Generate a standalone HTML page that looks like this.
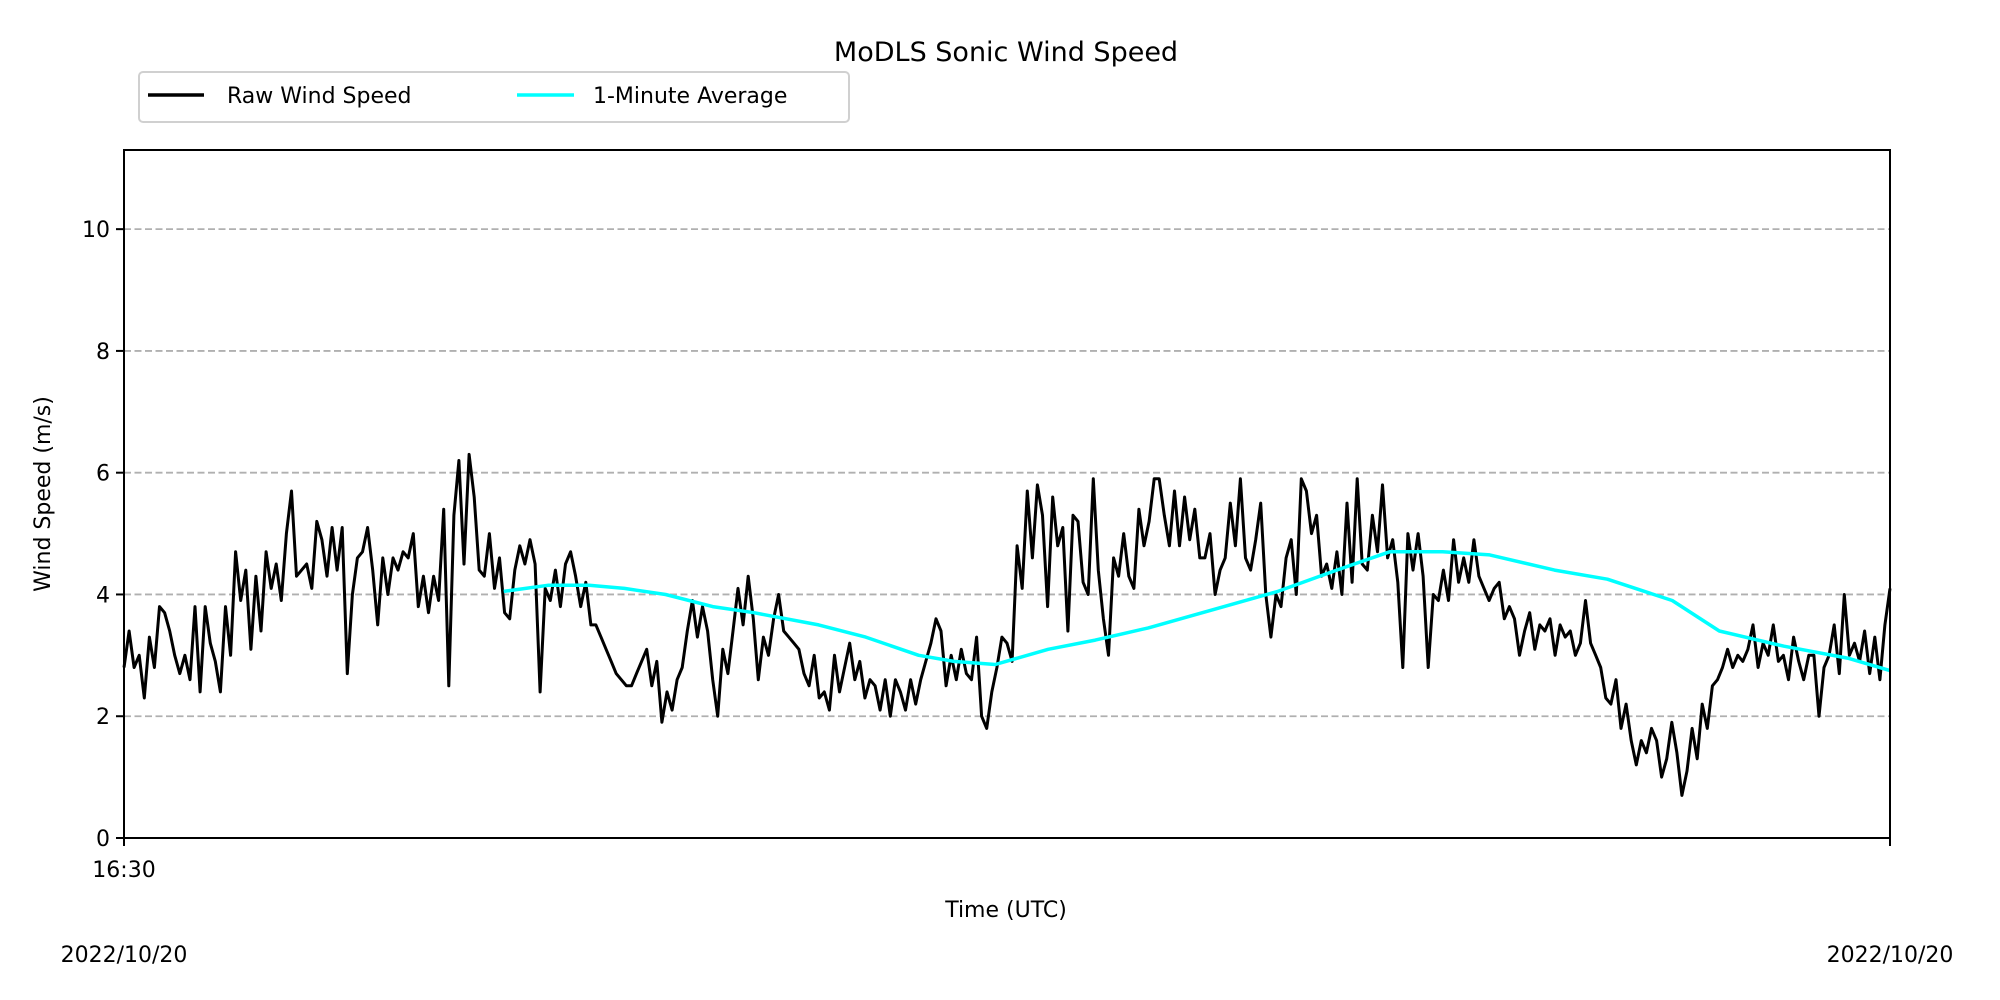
<!DOCTYPE html>
<html><head><meta charset="utf-8"><style>
html,body{margin:0;padding:0;background:#fff;}
svg{display:block;font-family:"DejaVu Sans","Liberation Sans",sans-serif;}
</style></head><body>
<svg id="chart" width="2000" height="1000" viewBox="0 0 2000 1000">
<rect width="2000" height="1000" fill="#fff"/>
<text x="1006" y="61" font-size="27" text-anchor="middle">MoDLS Sonic Wind Speed</text>
<g>
<rect x="139" y="72" width="710" height="50" rx="4" fill="#fff" stroke="#d0d0d0" stroke-width="2"/>
<line x1="148" y1="95" x2="204" y2="95" stroke="#000" stroke-width="3.5"/>
<text x="227" y="103" font-size="22">Raw Wind Speed</text>
<line x1="517" y1="95" x2="574" y2="95" stroke="#00ffff" stroke-width="3.5"/>
<text x="593" y="103" font-size="22">1-Minute Average</text>
</g>
<g id="grid"></g>
<g id="series"></g>
<rect x="124" y="150" width="1766" height="688" fill="none" stroke="#000" stroke-width="2"/>
<g id="yticks"></g>
<line x1="124" y1="838" x2="124" y2="846" stroke="#000" stroke-width="2"/>
<line x1="1890" y1="838" x2="1890" y2="846" stroke="#000" stroke-width="2"/>
<text x="124" y="877" font-size="22" text-anchor="middle">16:30</text>
<text x="124" y="962" font-size="22" text-anchor="middle">2022/10/20</text>
<text x="1890" y="962" font-size="22" text-anchor="middle">2022/10/20</text>
<text x="1006" y="917" font-size="22" text-anchor="middle">Time (UTC)</text>
<text transform="translate(50,494) rotate(-90)" font-size="22" text-anchor="middle">Wind Speed (m/s)</text>
</svg>
<script>
const yTicks = [0, 2, 4, 6, 8, 10];
const rawValues = [2.8,3.4,2.8,3.0,2.3,3.3,2.8,3.8,
3.7,3.4,3.0,2.7,3.0,2.6,3.8,2.4,3.8,3.2,2.9,2.4,3.8,3.0,4.7,3.9,4.4,3.1,4.3,3.4,4.7,4.1,4.5,3.9,5.0,5.7,4.3,
4.4,4.5,4.1,5.2,4.9,4.3,5.1,4.4,5.1,2.7,4.0,4.6,4.7,5.1,4.4,3.5,4.6,4.0,4.6,4.4,4.7,
4.6,5.0,3.8,4.3,3.7,4.3,3.9,5.4,2.5,5.3,6.2,4.5,6.3,5.6,4.4,4.3,5.0,4.1,4.6,3.7,3.6,4.4,4.8,4.5,4.9,4.5,2.4,
4.1,3.9,4.4,3.8,4.5,4.7,4.3,3.8,4.2,3.5,3.5,3.3,3.1,2.9,2.7,2.6,2.5,2.5,2.7,2.9,3.1,2.5,2.9,
1.9,2.4,2.1,2.6,2.8,3.4,3.9,3.3,3.8,3.4,2.6,2.0,3.1,2.7,3.4,4.1,3.5,4.3,3.6,2.6,3.3,3.0,3.6,4.0,3.4,3.3,3.2,3.1,2.7,
2.5,3.0,2.3,2.4,2.1,3.0,2.4,2.8,3.2,2.6,2.9,2.3,2.6,2.5,2.1,2.6,2.0,2.6,2.4,2.1,2.6,2.2,
2.6,2.9,3.2,3.6,3.4,2.5,3.0,2.6,3.1,2.7,2.6,3.3,2.0,1.8,2.4,2.8,3.3,3.2,2.9,
4.8,4.1,5.7,4.6,5.8,5.3,3.8,5.6,4.8,5.1,3.4,5.3,5.2,4.2,4.0,5.9,4.4,3.6,3.0,4.6,4.3,5.0,4.3,4.1,5.4,4.8,5.2,5.9,5.9,5.3,
4.8,5.7,4.8,5.6,4.9,5.4,4.6,4.6,5.0,4.0,4.4,4.6,5.5,4.8,5.9,4.6,4.4,4.9,5.5,4.0,3.3,4.0,3.8,4.6,
4.9,4.0,5.9,5.7,5.0,5.3,4.3,4.5,4.1,4.7,4.0,5.5,4.2,5.9,4.5,4.4,5.3,4.7,5.8,4.6,4.9,4.2,2.8,5.0,4.4,
5.0,4.3,2.8,4.0,3.9,4.4,3.9,4.9,4.2,4.6,4.2,4.9,4.3,4.1,3.9,4.1,4.2,3.6,3.8,3.6,3.0,3.4,3.7,3.1,
3.5,3.4,3.6,3.0,3.5,3.3,3.4,3.0,3.2,3.9,3.2,3.0,2.8,2.3,2.2,2.6,1.8,2.2,1.6,1.2,1.6,1.4,
1.8,1.6,1.0,1.3,1.9,1.4,0.7,1.1,1.8,1.3,2.2,1.8,2.5,2.6,2.8,3.1,2.8,3.0,2.9,3.1,3.5,2.8,
3.2,3.0,3.5,2.9,3.0,2.6,3.3,2.9,2.6,3.0,3.0,2.0,2.8,3.0,3.5,2.7,4.0,3.0,3.2,2.9,3.4,2.7,3.3,2.6,3.5,4.1];
const avgTimes = [64.5,72,79,85,92,100,107,118,126,135,141,148,157,165,174,185,196,206,215,224,232,243,252,263,271,282,293,300];
const avgValues = [4.05,4.15,4.15,4.1,4.0,3.8,3.7,3.5,3.3,3.0,2.9,2.85,3.1,3.25,3.45,3.75,4.05,4.4,4.7,4.7,4.65,4.4,4.25,3.9,3.4,3.15,2.95,2.75];
const T_MAX = 300, Y_MAX = 11.3;
const X0 = 124, X1 = 1890, Y0 = 838, Y1 = 150;
function xScale(t){ return X0 + (t / T_MAX) * (X1 - X0); }
function yScale(v){ return Y0 - (v / Y_MAX) * (Y0 - Y1); }
const NS = "http://www.w3.org/2000/svg";
const grid = document.getElementById('grid');
const yt = document.getElementById('yticks');
yTicks.forEach(v => {
  const y = yScale(v);
  if (v > 0) {
    const g = document.createElementNS(NS, 'line');
    g.setAttribute('x1', X0); g.setAttribute('x2', X1);
    g.setAttribute('y1', y); g.setAttribute('y2', y);
    g.setAttribute('stroke', '#b0b0b0'); g.setAttribute('stroke-width', '1.8');
    g.setAttribute('stroke-dasharray', '7,3.5');
    
    
    grid.appendChild(g);
  }
  const tk = document.createElementNS(NS, 'line');
  tk.setAttribute('x1', X0 - 8); tk.setAttribute('x2', X0);
  tk.setAttribute('y1', y); tk.setAttribute('y2', y);
  tk.setAttribute('stroke', '#000'); tk.setAttribute('stroke-width', '2');
  
  
  yt.appendChild(tk);
  const tx = document.createElementNS(NS, 'text');
  tx.setAttribute('x', X0 - 14); tx.setAttribute('y', y + 8);
  tx.setAttribute('font-size', '22'); tx.setAttribute('text-anchor', 'end');
  tx.textContent = v;
  
  
  yt.appendChild(tx);
});
const series = document.getElementById('series');
const n = rawValues.length;
const rawPts = rawValues.map((v, i) => xScale(i * T_MAX / (n - 1)).toFixed(1) + ',' + yScale(v).toFixed(1)).join(' ');
const raw = document.createElementNS(NS, 'polyline');
raw.setAttribute('points', rawPts);
raw.setAttribute('fill', 'none'); raw.setAttribute('stroke', '#000');
raw.setAttribute('stroke-width', '3'); raw.setAttribute('stroke-linejoin', 'round');


series.appendChild(raw);
const avgPts = avgValues.map((v, i) => xScale(avgTimes[i]).toFixed(1) + ',' + yScale(v).toFixed(1)).join(' ');
const avg = document.createElementNS(NS, 'polyline');
avg.setAttribute('points', avgPts);
avg.setAttribute('fill', 'none'); avg.setAttribute('stroke', '#00ffff');
avg.setAttribute('stroke-width', '3.5'); avg.setAttribute('stroke-linejoin', 'round');


series.appendChild(avg);
</script>
</body></html>
